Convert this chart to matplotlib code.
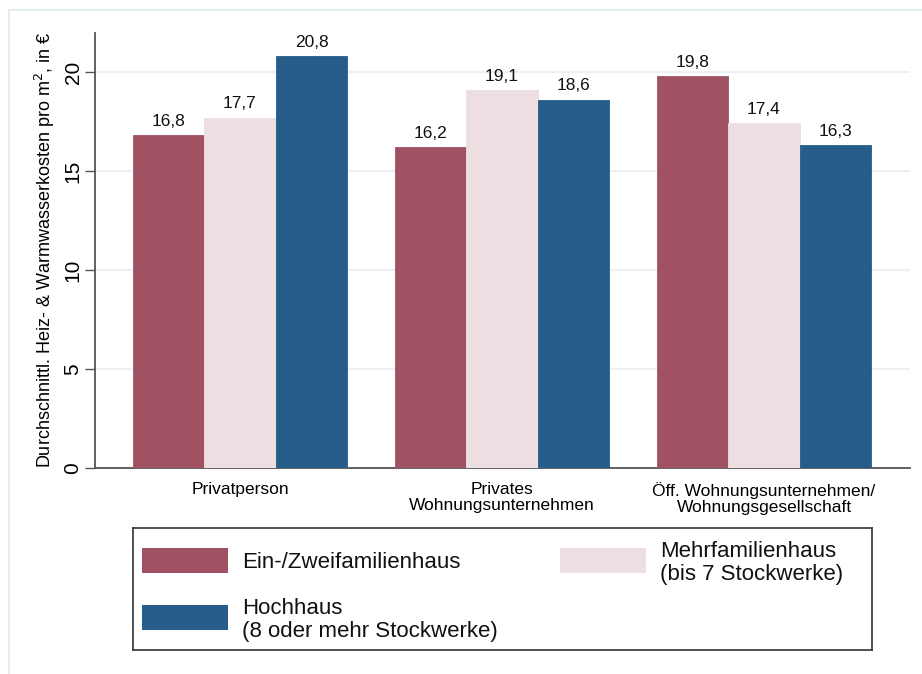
import matplotlib
matplotlib.use("Agg")
import matplotlib.pyplot as plt
from matplotlib.patches import Rectangle
from matplotlib.lines import Line2D
import numpy as np

plt.rcParams['font.family'] = ['Liberation Sans', 'DejaVu Sans']

categories = ["Privatperson", "Privates\nWohnungsunternehmen",
              "Öff. Wohnungsunternehmen/\nWohnungsgesellschaft"]
series_names = ["Ein-/Zweifamilienhaus", "Mehrfamilienhaus\n(bis 7 Stockwerke)",
                "Hochhaus\n(8 oder mehr Stockwerke)"]
ein_zwei = [16.8, 16.2, 19.8]
mehrfamilien = [17.7, 19.1, 17.4]
hochhaus = [20.8, 18.6, 16.3]
yticks = [0, 5, 10, 15, 20]
colors = ["#A05262", "#ECDEE1", "#265D8A"]

W, H = 922, 674
fig = plt.figure(figsize=(W / 100, H / 100), dpi=100)

def fx(px):
    return px / W

def fy(py):
    return 1 - py / H

# outer graph region border (light)
fig.add_artist(Line2D([fx(9), fx(9)], [fy(10), fy(674)], color="#E6EDF0", lw=1.5))
fig.add_artist(Line2D([fx(9), fx(922)], [fy(10), fy(10)], color="#E6EDF0", lw=1.5))

ax_l, ax_r, ax_t, ax_b = 95, 910, 33, 468
ax = fig.add_axes([fx(ax_l), fy(ax_b), fx(ax_r - ax_l), (ax_b - ax_t) / H])

spacing = 262.0
x = np.arange(len(categories))
width = 71.5 / spacing
series = [ein_zwei, mehrfamilien, hochhaus]
for i, (vals, c) in enumerate(zip(series, colors)):
    pos = x + (i - 1) * width
    bars = ax.bar(pos, vals, width=width, color=c, edgecolor=c, linewidth=0.6, zorder=3)
    for b, v in zip(bars, vals):
        ax.annotate(f"{v:.1f}".replace(".", ","), (b.get_x() + b.get_width() / 2, v),
                    xytext=(0, 4.5), textcoords="offset points", ha="center", va="bottom",
                    fontsize=12.5, color="#111111")

ax.set_xlim((ax_l - 240) / spacing, (ax_r - 240) / spacing)
ax.set_ylim(0, (ax_b - ax_t) / 19.8)
ax.set_yticks(yticks)
ax.set_yticklabels([str(t) for t in yticks], rotation=90, va="center", fontsize=15)
ax.yaxis.grid(True, color="#EAF0F4", lw=1.6, zorder=0)
ax.set_axisbelow(True)
ax.set_xticks(x)
ax.set_xticklabels(categories, fontsize=12.5, linespacing=1.12)
ax.tick_params(axis="x", length=0, pad=10)
ax.tick_params(axis="y", length=7, width=1, color="#555555", pad=2)
for s in ["top", "right"]:
    ax.spines[s].set_visible(False)
for s in ["left", "bottom"]:
    ax.spines[s].set_color("#555555")
    ax.spines[s].set_linewidth(1.3)

fig.text(fx(45), fy(250), "Durchschnittl. Heiz- & Warmwasserkosten pro m$^{2}$, in €",
         rotation=90, ha="center", va="center", fontsize=13)

# legend drawn manually
lax = fig.add_axes([fx(133), fy(650), fx(872 - 133), (650 - 528) / H])
lax.set_xlim(133, 872)
lax.set_ylim(650, 528)
lax.set_xticks([])
lax.set_yticks([])
for s in lax.spines.values():
    s.set_color("#333333")
    s.set_linewidth(1.2)
legend_pos = [(142, 548), (560, 548), (142, 605)]
for (hx, hy), c, name in zip(legend_pos, colors, series_names):
    lax.add_patch(Rectangle((hx, hy), 86, 25, facecolor=c, edgecolor="none"))
    lax.text(hx + 100, hy + 15, name, ha="left", va="center", fontsize=16,
             linespacing=1.15, color="#111111")

fig.savefig("out.png", dpi=100, facecolor="white")
